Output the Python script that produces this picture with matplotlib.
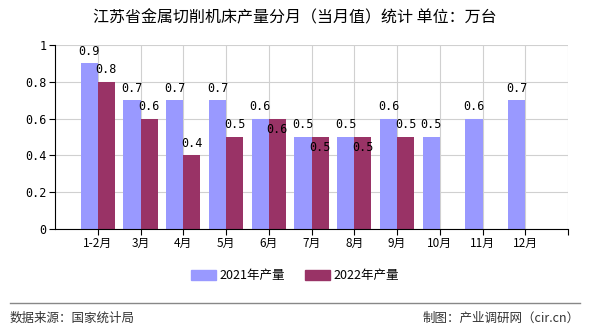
import numpy as np
import matplotlib
matplotlib.use('Agg')
from matplotlib import pyplot as plt

plt.rcParams['font.family'] = ['Noto Sans CJK SC', 'DejaVu Sans']

# Data
months = ['1-2月', '3月', '4月', '5月', '6月', '7月', '8月', '9月', '10月', '11月', '12月']
y2021 = [0.9, 0.7, 0.7, 0.7, 0.6, 0.5, 0.5, 0.6, 0.5, 0.6, 0.7]
y2022 = [0.8, 0.6, 0.4, 0.5, 0.6, 0.5, 0.5, 0.5]
# 2022 labels drawn inside the bar where they would collide with 2021 label
inside2022 = [False, False, False, False, True, True, True, False]

c2021 = '#9999FF'
c2022 = '#993366'

fig = plt.figure(figsize=(5.9, 3.3), dpi=100)
ax = fig.add_axes([55/590, 1 - 229/330, 513/590, 184/330])

x = np.arange(len(months))
w = 0.4
ax.bar(x - w/2, y2021, width=w, color=c2021, zorder=2)
x2 = np.arange(len(y2022))
ax.bar(x2 + w/2, y2022, width=w, color=c2022, zorder=2)

for xi, v in zip(x, y2021):
    ax.annotate('%g' % v, (xi - w/2, v), xytext=(0, 4), textcoords='offset points',
                ha='center', va='bottom', fontsize=8.5, family='DejaVu Sans Mono')
for xi, v, ins in zip(x2, y2022, inside2022):
    off = -3 if ins else 4
    ax.annotate('%g' % v, (xi + w/2, v), xytext=(0, off), textcoords='offset points',
                ha='center', va='top' if ins else 'bottom', fontsize=8.5,
                family='DejaVu Sans Mono')

ax.set_xlim(-1, 11)
ax.set_ylim(0, 1)
ax.set_xticks(list(x) + [11])
ax.set_xticklabels(months + [''], fontsize=8.5)
ax.set_yticks([0, 0.2, 0.4, 0.6, 0.8, 1])
ax.set_yticklabels(['0', '0.2', '0.4', '0.6', '0.8', '1'], fontsize=8.5, family='DejaVu Sans Mono')
ax.grid(True, color='#d0d0d0', linewidth=0.8, zorder=0)
ax.set_axisbelow(True)
ax.spines['top'].set_visible(False)
ax.spines['right'].set_visible(False)
ax.tick_params(length=4, width=0.8, pad=2)

fig.text(0.5, 1 - 18/330, '江苏省金属切削机床产量分月（当月值）统计 单位：万台',
         ha='center', va='center', fontsize=11.5)

handles = [plt.Rectangle((0, 0), 1, 1, color=c2021), plt.Rectangle((0, 0), 1, 1, color=c2022)]
fig.legend(handles, ['2021年产量', '2022年产量'], loc='center', bbox_to_anchor=(0.5, 1 - 276/330),
           ncol=2, frameon=False, fontsize=9, handlelength=2.0, handleheight=0.8, columnspacing=1.6,
           handletextpad=0.3)

fig.add_artist(plt.Line2D([10/590, 580/590], [1 - 303/330, 1 - 303/330], color='#888888', linewidth=1))
fig.text(10/590, 1 - 318/330, '数据来源：国家统计局', ha='left', va='center', fontsize=9, color='#333333')
fig.text(580/590, 1 - 318/330, '制图：产业调研网（cir.cn）', ha='right', va='center', fontsize=9, color='#333333')

fig.savefig('out.png', dpi=100)
